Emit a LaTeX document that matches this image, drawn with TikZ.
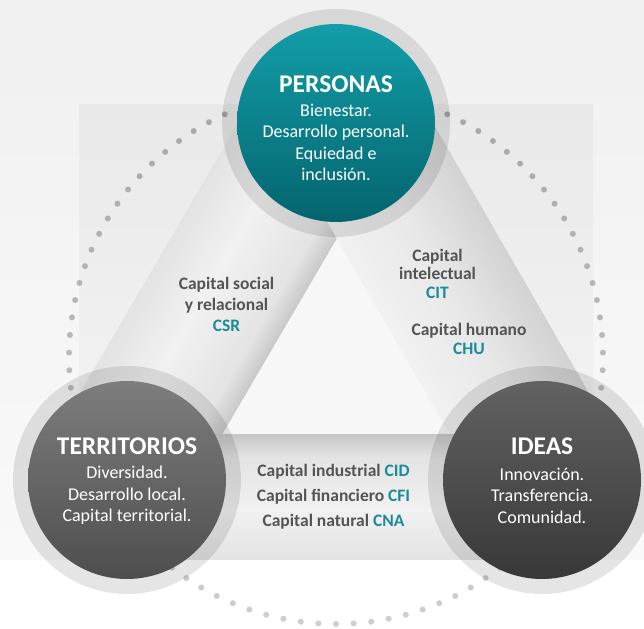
\documentclass[tikz,border=0pt]{standalone}
\usepackage{fontspec}
\setmainfont{Carlito}
\definecolor{pagetop}{RGB}{240,240,240}
\definecolor{pagebot}{RGB}{249,249,249}
\definecolor{boxtop}{RGB}{233,233,233}
\definecolor{boxbot}{RGB}{246,246,246}
\definecolor{hollow}{RGB}{247,247,247}
\definecolor{tealtop}{RGB}{18,158,168}
\definecolor{tealbot}{RGB}{4,100,110}
\definecolor{terrtop}{RGB}{125,125,125}
\definecolor{terrbot}{RGB}{78,78,78}
\definecolor{ideatop}{RGB}{98,98,98}
\definecolor{ideabot}{RGB}{56,56,56}
\definecolor{codeteal}{RGB}{26,140,152}
\definecolor{labelgray}{RGB}{84,84,84}
\definecolor{dotdark}{RGB}{166,166,166}
\definecolor{dotlight}{RGB}{206,206,206}
\definecolor{bandshadow}{RGB}{200,200,200}
\definecolor{bandsoft}{RGB}{228,228,228}
\definecolor{bandlight}{RGB}{241,241,241}
\definecolor{bandside}{RGB}{227,227,227}
\definecolor{bandmid}{RGB}{232,232,232}
\definecolor{banddark}{RGB}{210,210,210}
\pgfdeclarehorizontalshading{leftband}{100bp}{color(0bp)=(bandshadow); color(25bp)=(bandshadow); color(33bp)=(bandsoft); color(55bp)=(bandlight); color(75bp)=(bandside); color(100bp)=(bandside)}
\pgfdeclarehorizontalshading{rightband}{100bp}{color(0bp)=(bandlight); color(25bp)=(bandlight); color(50bp)=(bandmid); color(75bp)=(banddark); color(100bp)=(banddark)}
\pgfdeclareverticalshading{bottomband}{100bp}{color(0bp)=(bandside); color(25bp)=(bandside); color(45bp)=(bandlight); color(66bp)=(bandsoft); color(75bp)=(bandshadow); color(100bp)=(bandshadow)}
\begin{document}
\begin{tikzpicture}[x=1pt, y=1pt,
    outerring/.style={circle, minimum size=228pt, inner sep=0pt, fill=black, fill opacity=0.1},
    innerball/.style={circle, minimum size=198pt, inner sep=0pt},
    circletitle/.style={text=white, font=\fontsize{25.5}{30}\selectfont\bfseries},
    circletext/.style={text=white, align=center, font=\fontsize{18}{21.5}\selectfont},
    capitaltext/.style={text=labelgray, align=center, font=\fontsize{17.5}{21}\selectfont\bfseries}]
  \useasboundingbox (0,0) rectangle (644,628);
  \fill[white] (0,0) rectangle (644,628);
  \shade[top color=pagetop, bottom color=pagebot] (0,68) rectangle (644,628);
  \shade[top color=boxtop, bottom color=boxbot] (79,68) rectangle (593,523);
  \fill[hollow] (336.8,389.5) -- (222,193) -- (450,193) -- cycle;

  % dotted circle
  \foreach \k in {0,...,94}{
    \pgfmathsetmacro\ang{-90+\k*(360/95)}
    \pgfmathtruncatemacro\mix{50+50*sin(\ang)}
    \fill[dotdark!\mix!dotlight] ({336+267*cos(\ang)},{271+267*sin(\ang)}) circle (3);
  }

  % bands
  \begin{scope}[transform canvas={shift={(336,505)}, rotate=149.67}]
    \shade[shading=leftband] (-59,0) rectangle (84.5,413.7);
  \end{scope}
  \begin{scope}[transform canvas={shift={(336,505)}, rotate=30}]
    \shade[shading=rightband] (-57,-412.2) rectangle (84,0);
  \end{scope}
  \shade[shading=bottomband] (127,68) rectangle (542,193);

  \node[outerring] (personasring) at (336,505) {};
  \node[outerring] (territoriosring) at (127,148) {};
  \node[outerring] (ideasring) at (542,148) {};
  \node[innerball, top color=tealtop, bottom color=tealbot] (personas) at (336,505) {};
  \node[innerball, top color=terrtop, bottom color=terrbot] (territorios) at (127,148) {};
  \node[innerball, top color=ideatop, bottom color=ideabot] (ideas) at (542,148) {};

  \node[circletitle] (personastitle) at (336,544) {PERSONAS};
  \node[circletext] (personasbody) at (336,485.5) {Bienestar.\\Desarrollo personal.\\Equiedad e\\inclusión.};
  \node[circletitle] (territoriostitle) at (127,181.5) {TERRITORIOS};
  \node[circletext] (territoriosbody) at (127,132.5) {Diversidad.\\Desarrollo local.\\Capital territorial.};
  \node[circletitle] (ideastitle) at (542,181.5) {IDEAS};
  \node[circletext] (ideasbody) at (542,132.5) {Innovación.\\Transferencia.\\Comunidad.};

  \node[capitaltext] (csr) at (226.5,324) {Capital social\\y relacional\\\textcolor{codeteal}{CSR}};
  \node[capitaltext, font=\fontsize{17.5}{18.5}\selectfont\bfseries] (cit) at (437.5,354.5) {Capital\\intelectual\\\textcolor{codeteal}{CIT}};
  \node[capitaltext, font=\fontsize{17.5}{19}\selectfont\bfseries] (chu) at (469,289.5) {Capital humano\\\textcolor{codeteal}{CHU}};
  \node[capitaltext, font=\fontsize{17.5}{25}\selectfont\bfseries] (capitales) at (333.5,131) {Capital industrial \textcolor{codeteal}{CID}\\Capital financiero \textcolor{codeteal}{CFI}\\Capital natural \textcolor{codeteal}{CNA}};
\end{tikzpicture}
\end{document}
